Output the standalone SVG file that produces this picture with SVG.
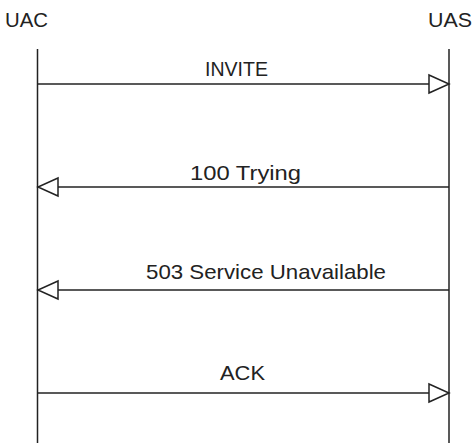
<svg xmlns="http://www.w3.org/2000/svg" width="475" height="443" viewBox="0 0 475 443">
  <style>
    .lbl { font-family: "Liberation Sans", Arial, sans-serif; font-size: 21px; fill: #222; }
    .life { stroke: #222; stroke-width: 1.5; fill: none; }
    .msg { stroke: #222; stroke-width: 1.5; fill: none; }
    .head { stroke: #222; stroke-width: 1.5; fill: #fff; stroke-linejoin: miter; }
  </style>
  <rect width="475" height="443" fill="#fff"/>

  <g id="uac">
    <text class="lbl" x="5" y="27" textLength="43" lengthAdjust="spacingAndGlyphs">UAC</text>
    <line class="life" x1="37.5" y1="49" x2="37.5" y2="443"/>
  </g>
  <g id="uas">
    <text class="lbl" x="428" y="27" textLength="44" lengthAdjust="spacingAndGlyphs">UAS</text>
    <line class="life" x1="449" y1="49" x2="449" y2="443"/>
  </g>

  <g id="connectors">
    <g id="m-invite">
      <line class="msg" x1="37.5" y1="84" x2="429" y2="84"/>
      <polygon class="head" points="429,75 449,84 429,93"/>
      <text class="lbl" x="205" y="76" textLength="63" lengthAdjust="spacingAndGlyphs">INVITE</text>
    </g>
    <g id="m-trying">
      <line class="msg" x1="449" y1="187" x2="58" y2="187"/>
      <polygon class="head" points="58,178 38,187 58,196"/>
      <text class="lbl" x="190" y="180" textLength="111" lengthAdjust="spacingAndGlyphs">100 Trying</text>
    </g>
    <g id="m-503">
      <line class="msg" x1="449" y1="290" x2="58" y2="290"/>
      <polygon class="head" points="58,281 38,290 58,299"/>
      <text class="lbl" x="146" y="279" textLength="240" lengthAdjust="spacingAndGlyphs">503 Service Unavailable</text>
    </g>
    <g id="m-ack">
      <line class="msg" x1="37.5" y1="393" x2="429" y2="393"/>
      <polygon class="head" points="429,384 449,393 429,402"/>
      <text class="lbl" x="220" y="380" textLength="45" lengthAdjust="spacingAndGlyphs">ACK</text>
    </g>
  </g>
</svg>
